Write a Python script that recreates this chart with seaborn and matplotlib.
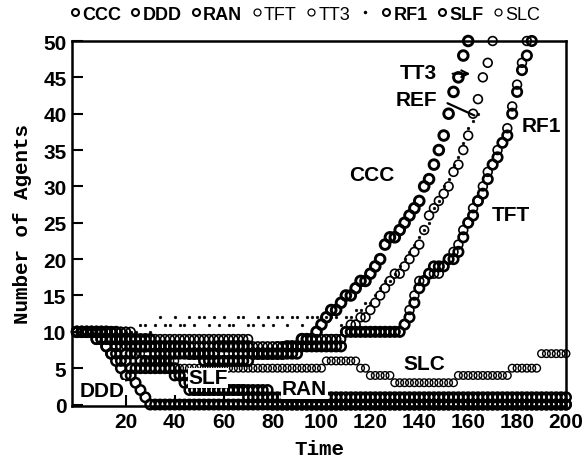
import matplotlib
matplotlib.use("Agg")
import matplotlib.pyplot as plt
import seaborn as sns
from matplotlib import font_manager as fm
from matplotlib.lines import Line2D

# ---------------- data (sampled every 2 time steps) ----------------
time = list(range(0, 201, 2))

ccc = [10, 10, 10, 10, 10, 10, 10, 9, 9, 9,
       9, 9, 8, 8, 8, 8, 8, 8, 8, 8,
       8, 8, 8, 7, 7, 7, 7, 7, 7, 8,
       8, 8, 8, 8, 8, 8, 7, 7, 7, 7,
       7, 7, 7, 8, 8, 8, 9, 9, 9, 10,
       11, 12, 13, 13, 14, 15, 15, 16, 17, 17,
       18, 19, 20, 22, 23, 23, 24, 25, 26, 27,
       28, 30, 31, 33, 35, 37, 40, 43, 45, 48,
       50]

ddd = [10, 10, 10, 10, 9, 9, 8, 7, 6, 5,
       4, 4, 3, 2, 1, 0, 0, 0, 0, 0,
       0, 0, 0, 0, 0, 0, 0, 0, 0, 0,
       0, 0, 0, 0, 0, 0, 0, 0, 0, 0,
       0, 0, 0, 0, 0, 0, 0, 0, 0, 0,
       0, 0, 0, 0, 0, 0, 0, 0, 0, 0,
       0, 0, 0, 0, 0, 0, 0, 0, 0, 0,
       0, 0, 0, 0, 0, 0, 0, 0, 0, 0,
       0, 0, 0, 0, 0, 0, 0, 0, 0, 0,
       0, 0, 0, 0, 0, 0, 0, 0, 0, 0,
       0]

ran = [10, 10, 10, 10, 10, 10, 9, 9, 8, 8,
       7, 7, 7, 6, 6, 6, 6, 6, 6, 5,
       5, 4, 3, 2, 2, 2, 2, 2, 2, 2,
       2, 2, 2, 2, 2, 2, 2, 2, 2, 2,
       1, 1, 1, 1, 1, 1, 1, 1, 1, 1,
       1, 1, 1, 1, 1, 1, 1, 1, 1, 1,
       1, 1, 1, 1, 1, 1, 1, 1, 1, 1,
       1, 1, 1, 1, 1, 1, 1, 1, 1, 1,
       1, 1, 1, 1, 1, 1, 1, 1, 1, 1,
       1, 1, 1, 1, 1, 1, 1, 1, 1, 1,
       1]

tft = [10, 10, 10, 10, 10, 10, 10, 10, 10, 10,
       10, 9, 9, 9, 9, 9, 8, 8, 8, 8,
       8, 8, 8, 8, 8, 8, 8, 8, 8, 8,
       8, 7, 7, 7, 7, 7, 7, 7, 7, 7,
       7, 8, 8, 8, 8, 8, 8, 8, 8, 8,
       8, 9, 9, 9, 9, 10, 10, 10, 10, 10,
       10, 10, 10, 10, 10, 10, 10, 11, 13, 15,
       17, 17, 18, 18, 18, 19, 20, 21, 22, 24,
       25, 27, 28, 30, 32, 33, 35, 36, 38, 41,
       44, 47, 50]

tt3 = [10, 10, 10, 10, 10, 10, 10, 10, 10, 10,
       10, 10, 9, 9, 9, 9, 9, 9, 9, 9,
       9, 9, 9, 9, 9, 9, 9, 9, 9, 9,
       9, 9, 9, 9, 9, 9, 8, 8, 8, 8,
       8, 8, 8, 8, 8, 8, 9, 9, 9, 9,
       9, 9, 9, 9, 9, 10, 11, 11, 12, 12,
       13, 14, 15, 16, 17, 18, 18, 19, 20, 21,
       22, 24, 26, 27, 28, 29, 30, 32, 33, 35,
       37, 40, 42, 45, 47, 50]

ref = [10, 10, 10, 10, 10, 10, 10, 10, 10, 10,
       10, 10, 10, 11, 11, 10, 11, 12, 11, 11,
       12, 11, 11, 12, 11, 12, 12, 11, 12, 11,
       12, 11, 11, 12, 12, 11, 11, 12, 11, 12,
       11, 12, 12, 11, 12, 12, 11, 12, 12, 12,
       12, 12, 12, 12, 11, 12, 12, 13, 13, 14,
       14, 15, 16, 17, 17, 18, 19, 20, 21, 22,
       23, 24, 25, 27, 28, 30, 31, 33, 34, 36,
       38, 39, 40]

rf1 = [10, 10, 10, 10, 10, 10, 10, 10, 10, 9,
       9, 9, 9, 9, 9, 9, 7, 7, 7, 7,
       7, 7, 7, 7, 7, 7, 6, 6, 6, 6,
       6, 6, 6, 6, 6, 6, 7, 7, 7, 7,
       7, 7, 7, 7, 7, 7, 8, 8, 8, 8,
       8, 8, 8, 8, 8, 10, 10, 10, 10, 10,
       10, 10, 10, 10, 10, 10, 10, 11, 12, 14,
       16, 17, 18, 19, 19, 19, 20, 20, 21, 23,
       25, 26, 28, 29, 31, 33, 34, 36, 37, 40,
       43, 46, 48, 50]

slf = [10, 10, 10, 10, 9, 9, 8, 7, 7, 6,
       6, 5, 5, 5, 5, 5, 5, 5, 5, 5,
       4, 4, 4, 3, 2, 2, 2, 2, 2, 2,
       2, 2, 2, 2, 2, 1, 1, 1, 1, 1,
       0, 0, 0, 0, 0, 0, 0, 0, 0, 0,
       0, 0, 0, 0, 0, 0, 0, 0, 0, 0,
       0, 0, 0, 0, 0, 0, 0, 0, 0, 0,
       0, 0, 0, 0, 0, 0, 0, 0, 0, 0,
       0, 0, 0, 0, 0, 0, 0, 0, 0, 0,
       0, 0, 0, 0, 0, 0, 0, 0, 0, 0,
       0]

slc = [10, 10, 10, 10, 10, 10, 10, 9, 9, 9,
       8, 8, 7, 7, 6, 6, 6, 6, 6, 6,
       6, 5, 5, 5, 5, 5, 5, 5, 5, 5,
       5, 5, 5, 5, 5, 5, 5, 5, 5, 5,
       5, 5, 5, 5, 5, 5, 5, 5, 5, 5,
       5, 6, 6, 6, 6, 6, 6, 6, 5, 5,
       4, 4, 4, 4, 4, 3, 3, 3, 3, 3,
       3, 3, 3, 3, 3, 3, 3, 3, 4, 4,
       4, 4, 4, 4, 4, 4, 4, 4, 4, 5,
       5, 5, 5, 5, 5, 7, 7, 7, 7, 7,
       7]

legend_labels = ["CCC", "DDD", "RAN", "TFT", "TT3", "", "RF1", "SLF", "SLC"]
legend_bold = [True, True, True, False, False, False, True, True, False]
x_ticks = [20, 40, 60, 80, 100, 120, 140, 160, 180, 200]
y_ticks = [0, 5, 10, 15, 20, 25, 30, 35, 40, 45, 50]

# ---------------- style ----------------
sns.set_theme(style="ticks")
names = {f.name for f in fm.fontManager.ttflist}
NARROW = "Liberation Sans Narrow" if "Liberation Sans Narrow" in names else "Liberation Sans"
plt.rcParams["font.family"] = ["Liberation Sans", "DejaVu Sans"]
for key in ["text.color", "axes.labelcolor", "xtick.color", "ytick.color",
            "axes.edgecolor"]:
    plt.rcParams[key] = "black"

fig = plt.figure(figsize=(5.87, 4.60), dpi=100)
ax = fig.add_axes([72 / 587, 1 - 407 / 460, (566 - 72) / 587, (407 - 42) / 460])

series = [
    ("SLC", slc, 30, 1.0),
    ("TFT", tft, 40, 1.2),
    ("TT3", tt3, 40, 1.2),
    ("RAN", ran, 46, 1.8),
    ("DDD", ddd, 46, 1.8),
    ("SLF", slf, 46, 1.8),
    ("RF1", rf1, 46, 1.9),
    ("CCC", ccc, 48, 2.1),
]
for name, vals, s, lw in series:
    sns.scatterplot(x=time[:len(vals)], y=vals, ax=ax, s=s, marker="o",
                    color="black", facecolor="none", edgecolor="black",
                    linewidth=lw, legend=False, clip_on=False, zorder=3)
# REF: small dots
sns.scatterplot(x=time[:len(ref)], y=ref, ax=ax, s=4, marker="o",
                color="black", edgecolor="black", linewidth=0.3,
                legend=False, clip_on=False, zorder=3)

ax.set_xlim(-2, 200)
ax.set_ylim(-0.2, 50)
ax.set_xticks(x_ticks)
ax.set_yticks(y_ticks)
ax.tick_params(direction="in", length=8, width=1.5, top=False, right=False,
               labelsize=15, pad=4, colors="black")
for lbl in ax.get_xticklabels() + ax.get_yticklabels():
    lbl.set_fontfamily([NARROW, "DejaVu Sans"])
    lbl.set_fontweight("bold")
for sp in ax.spines.values():
    sp.set_visible(True)
    sp.set_linewidth(1.8)
    sp.set_color("black")

ax.set_xlabel("Time", fontfamily=["Liberation Mono", "DejaVu Sans Mono"],
              fontweight="bold", fontsize=15, labelpad=6, color="black")
ax.set_ylabel("Number of Agents", fontfamily=["Liberation Mono", "DejaVu Sans Mono"],
              fontweight="bold", fontsize=15, labelpad=8, color="black")

# in-plot labels
lab_kw = dict(fontsize=15, fontweight="bold", ha="center", va="center", zorder=5,
              color="black",
              bbox=dict(facecolor="white", edgecolor="none", pad=0.5))
ax.text(120.5, 31.6, "CCC", **lab_kw)
ax.text(139.5, 45.6, "TT3", **lab_kw)
ax.text(139.0, 41.9, "REF", **lab_kw)
ax.text(190.0, 38.4, "RF1", **lab_kw)
ax.text(177.5, 26.2, "TFT", **lab_kw)
ax.text(142.0, 5.6, "SLC", **lab_kw)
ax.text(93.0, 2.2, "RAN", **lab_kw)
ax.text(53.6, 3.7, "SLF", **lab_kw)
ax.text(10.2, 2.0, "DDD", **lab_kw)
ax.annotate("", xy=(162, 45.5), xytext=(152.5, 45.5),
            arrowprops=dict(arrowstyle="->", lw=1.5, color="black"), zorder=5)
ax.annotate("", xy=(163.6, 39.6), xytext=(150.5, 41.6),
            arrowprops=dict(arrowstyle="-", lw=1.6, color="black"), zorder=5)

# legend
handles = []
for lab, bold in zip(legend_labels, legend_bold):
    if lab == "":
        handles.append(Line2D([], [], ls="none", marker="o", markersize=1.5,
                              color="black"))
    else:
        handles.append(Line2D([], [], ls="none", marker="o", markersize=5,
                              markerfacecolor="none", markeredgecolor="black",
                              markeredgewidth=1.5 if bold else 0.9))
leg = fig.legend(handles, legend_labels, loc="center", ncol=9, frameon=False,
                 bbox_to_anchor=(305 / 587, 1 - 15 / 460), handlelength=0.5,
                 handletextpad=0.15, columnspacing=0.55, borderaxespad=0,
                 prop={"family": [NARROW, "DejaVu Sans"], "size": 13})
for t, bold in zip(leg.get_texts(), legend_bold):
    t.set_fontweight("bold" if bold else "normal")
    t.set_color("black")

fig.savefig("out.png", dpi=100)
